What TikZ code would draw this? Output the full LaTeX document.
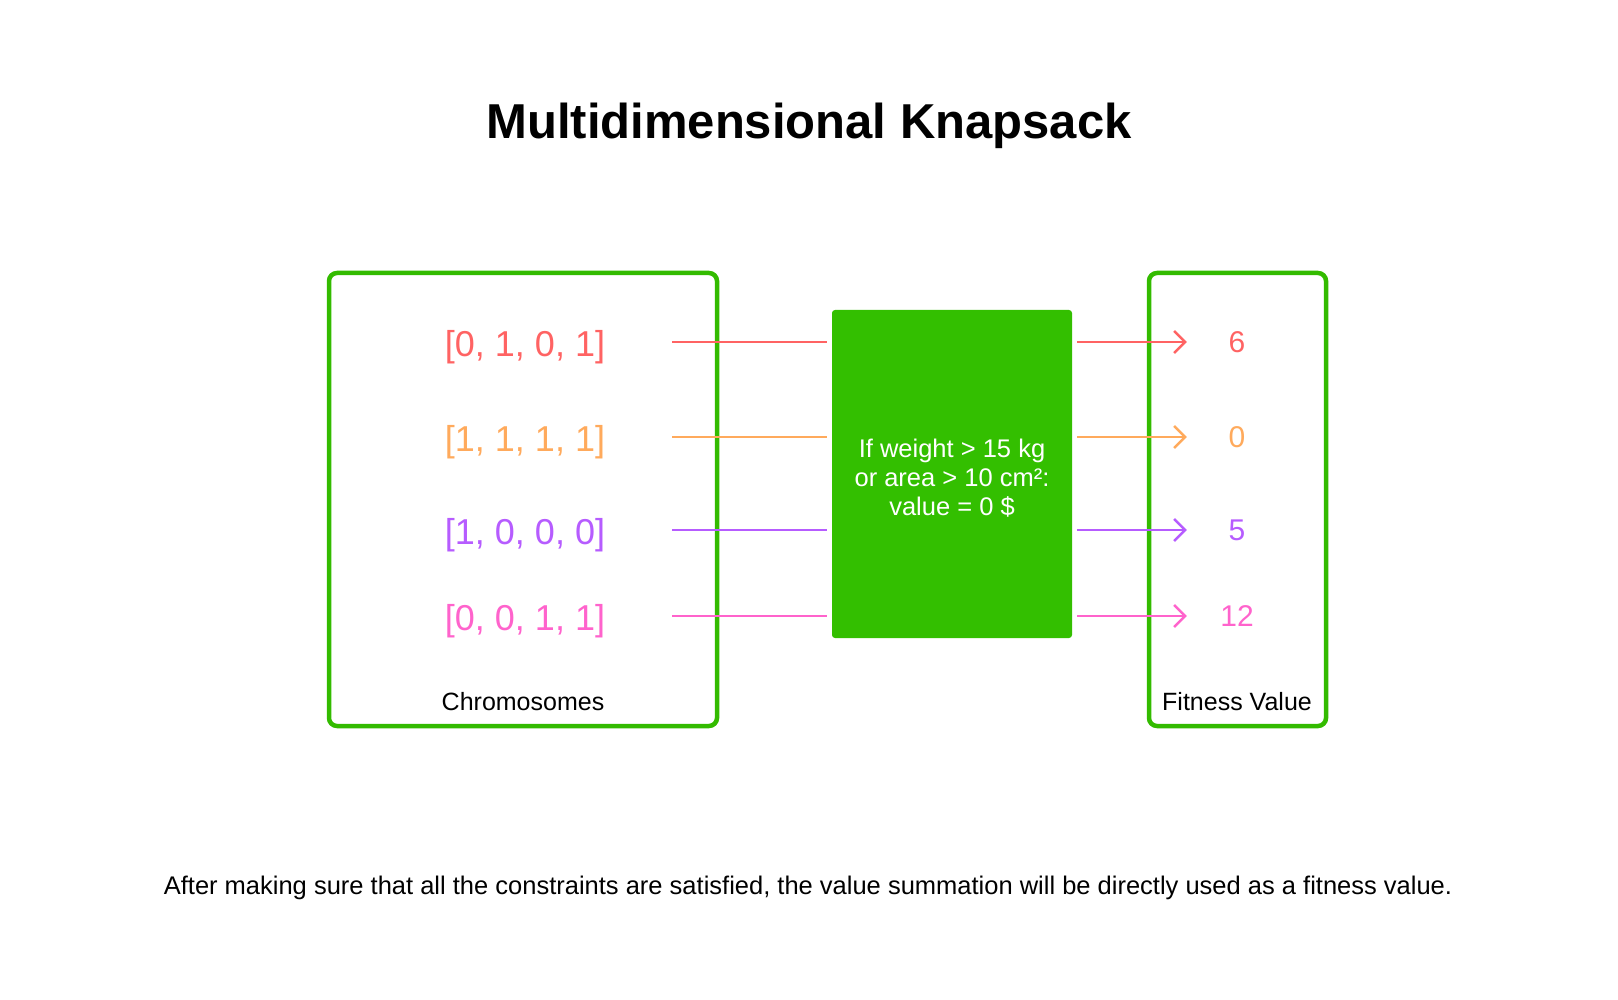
\documentclass[tikz,border=0pt]{standalone}
\usepackage{fontspec}
\setmainfont{Liberation Sans}
\usetikzlibrary{arrows.meta, positioning}

\definecolor{boxgreen}{RGB}{51,187,0}
\definecolor{fillgreen}{RGB}{51,191,0}
\definecolor{rowred}{RGB}{255,99,99}
\definecolor{roworange}{RGB}{255,170,92}
\definecolor{rowpurple}{RGB}{182,92,255}
\definecolor{rowpink}{RGB}{255,99,204}

\begin{document}
\begin{tikzpicture}[
    x=1pt, y=-1pt,
    frame/.style={rectangle, rounded corners=8pt, draw=boxgreen, line width=4.5pt},
    filterbox/.style={rectangle, rounded corners=3pt, fill=fillgreen},
    filtertext/.style={text=white, align=center, font=\fontsize{25.5}{29}\selectfont},
    chromo/.style={minimum width=294pt, text height=29pt, text depth=0pt, text centered, font=\fontsize{36}{42}\selectfont},
    fitval/.style={minimum width=100pt, text centered, font=\fontsize{30}{36}\selectfont},
    caption/.style={font=\fontsize{25}{30}\selectfont},
    link/.style={line width=2.5pt},
    arrow/.style={line width=2.5pt, -{Straight Barb[length=11pt, width=22pt, line width=2.5pt]}}
]
    \useasboundingbox (0,0) rectangle (1618,1000);

    % Title
    \node[font=\fontsize{49}{58}\selectfont\bfseries] (title) at (809,126) {Multidimensional Knapsack};

    % Boxes
    \node[frame, minimum width=388pt, minimum height=453pt] (chromosomes) at (523,499.5) {};
    \node[frame, minimum width=177pt, minimum height=453pt] (fitness) at (1237.5,499.5) {};
    \node[filterbox, minimum width=240pt, minimum height=328pt] (filter) at (952,474) {};
    \node[filtertext] (rule) at ([yshift=-4pt]filter.center)
        {If weight > 15 kg\\or area > 10 cm²:\\value = 0 \$};

    \node[caption] (chromo_label) at (523,702) {Chromosomes};
    \node[caption] (fitness_label) at (1237,702) {Fitness Value};

    % Chromosomes
    \node[chromo, text=rowred] (c1) at (525,342) {[0, 1, 0, 1]};
    \node[chromo, text=roworange] (c2) at (525,437) {[1, 1, 1, 1]};
    \node[chromo, text=rowpurple] (c3) at (525,530) {[1, 0, 0, 0]};
    \node[chromo, text=rowpink] (c4) at (525,616) {[0, 0, 1, 1]};

    % Fitness values
    \node[fitval, text=rowred] (v1) at (1237,342) {6};
    \node[fitval, text=roworange] (v2) at (1237,437) {0};
    \node[fitval, text=rowpurple] (v3) at (1237,530) {5};
    \node[fitval, text=rowpink] (v4) at (1237,616) {12};

    % Into the filter
    \draw[link, rowred, shorten >=5pt] (c1.east) -- (c1.east -| filter.west);
    \draw[link, roworange, shorten >=5pt] (c2.east) -- (c2.east -| filter.west);
    \draw[link, rowpurple, shorten >=5pt] (c3.east) -- (c3.east -| filter.west);
    \draw[link, rowpink, shorten >=5pt] (c4.east) -- (c4.east -| filter.west);

    % Out of the filter
    \draw[arrow, rowred, shorten <=5pt] (v1.west -| filter.east) -- (v1.west);
    \draw[arrow, roworange, shorten <=5pt] (v2.west -| filter.east) -- (v2.west);
    \draw[arrow, rowpurple, shorten <=5pt] (v3.west -| filter.east) -- (v3.west);
    \draw[arrow, rowpink, shorten <=5pt] (v4.west -| filter.east) -- (v4.west);

    % Note
    \node[font=\fontsize{25.5}{30}\selectfont] (note) at (808,888)
        {After making sure that all the constraints are satisfied, the value summation will be directly used as a fitness value.};
\end{tikzpicture}
\end{document}
